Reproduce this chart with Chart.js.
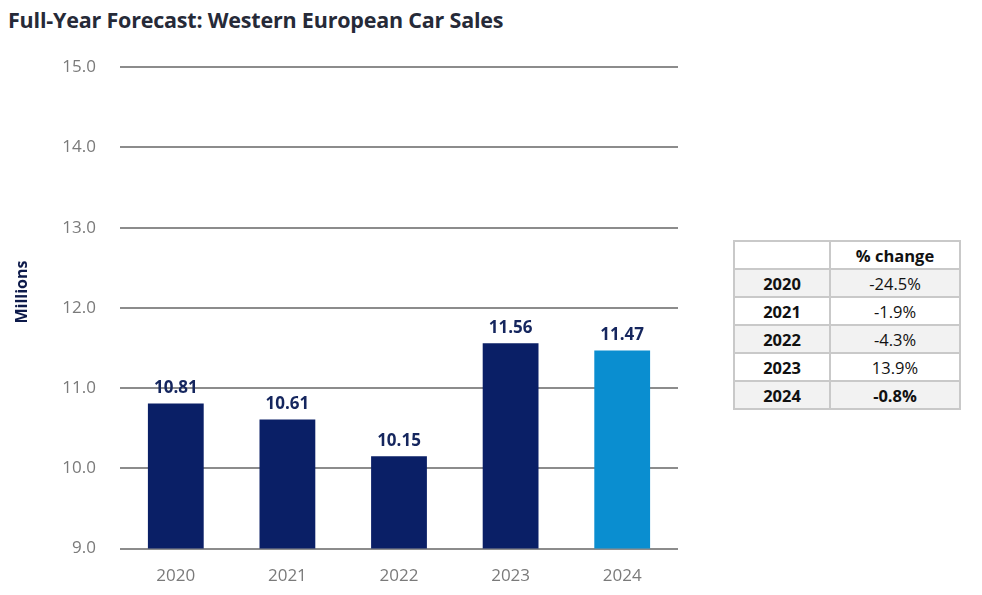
<!DOCTYPE html>
<html>
<head>
<meta charset="utf-8">
<script src="https://cdn.jsdelivr.net/npm/chart.js@4.4.1/dist/chart.umd.min.js"></script>
<style>
  body { margin: 0; background: #fff; font-family: "Open Sans", sans-serif; overflow: hidden; }
  #title { position: absolute; left: 8px; top: 5px; font-size: 21.5px; font-weight: bold; color: #262a38; letter-spacing: -0.2px; }
  #wrap { position: absolute; left: 0; top: 33px; width: 700px; height: 562px; }
  #pct { position: absolute; left: 733px; top: 240px; border-collapse: collapse; border: 2px solid #c9c9c9; font-size: 16.5px; color: #111; }
  #pct td { border: 2px solid #c9c9c9; height: 26px; padding: 0; text-align: center; }
  #pct td.yr { width: 94px; font-weight: bold; }
  #pct td.val { width: 128px; }
  #pct tr.shade td { background: #f2f2f2; }
</style>
</head>
<body>
<div id="title">Full-Year Forecast: Western European Car Sales</div>
<div id="wrap"><canvas id="salesChart"></canvas></div>
<table id="pct"></table>
<script>
const years = ["2020", "2021", "2022", "2023", "2024"];
const sales = [10.81, 10.61, 10.15, 11.56, 11.47];
const barColors = ["#0a1f66", "#0a1f66", "#0a1f66", "#0a1f66", "#0a8ed0"];
const pctChange = ["-24.5%", "-1.9%", "-4.3%", "13.9%", "-0.8%"];

// side table
const table = document.getElementById("pct");
let html = '<tr><td class="yr"></td><td class="val" style="font-weight:bold">% change</td></tr>';
years.forEach((y, i) => {
  const bold = i === years.length - 1 ? ' style="font-weight:bold"' : '';
  html += '<tr class="' + (i % 2 === 0 ? 'shade' : '') + '"><td class="yr">' + y + '</td><td class="val"' + bold + '>' + pctChange[i] + '</td></tr>';
});
table.innerHTML = html;

const valueLabels = {
  id: "valueLabels",
  afterDatasetsDraw(chart) {
    const ctx = chart.ctx;
    const meta = chart.getDatasetMeta(0);
    ctx.save();
    ctx.font = "bold 17px 'Open Sans', sans-serif";
    ctx.fillStyle = "#15265e";
    ctx.textAlign = "center";
    ctx.textBaseline = "bottom";
    meta.data.forEach((bar, i) => {
      ctx.fillText(sales[i].toFixed(2), bar.x, bar.y - 7);
    });
    // axis title, sits a little above the plot's middle
    ctx.font = "bold 16px 'Open Sans', sans-serif";
    ctx.fillStyle = "#0d1a4a";
    ctx.textBaseline = "middle";
    ctx.translate(22, 259);
    ctx.rotate(-Math.PI / 2);
    ctx.fillText("Millions", 0, 0);
    ctx.restore();
  }
};

new Chart(document.getElementById("salesChart"), {
  type: "bar",
  data: {
    labels: years,
    datasets: [{data: sales, backgroundColor: barColors, barPercentage: 0.5, categoryPercentage: 1}]
  },
  options: {
    responsive: true, maintainAspectRatio: false, animation: false,
    layout: {padding: {top: 11, right: 22, bottom: 0}},
    plugins: {legend: {display: false}, tooltip: {enabled: false}},
    scales: {
      x: {
        grid: {display: false}, border: {display: false},
        ticks: {color: "#7a7a7a", font: {size: 17, family: "'Open Sans', sans-serif"}, padding: 9}
      },
      y: {
        min: 9, max: 15,
        afterFit(s) { s.width = 120; },
        grid: {color: "#8c8c8c", lineWidth: 2, drawTicks: false},
        border: {display: false},
        ticks: {stepSize: 1, color: "#7a7a7a", padding: 24, font: {size: 17, family: "'Open Sans', sans-serif"}, callback: v => v.toFixed(1)}
      }
    }
  },
  plugins: [valueLabels]
});
</script>
</body>
</html>
